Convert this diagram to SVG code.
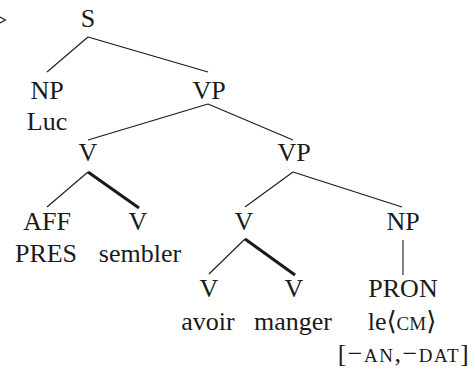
<svg xmlns="http://www.w3.org/2000/svg" width="475" height="371" viewBox="0 0 475 371">
<style>
text{font-family:"Liberation Serif","DejaVu Serif",serif;font-size:26px;fill:#1a1a1a;text-anchor:middle}
.sc{font-size:19px}
.ls{letter-spacing:1.5px}
.e{stroke:#1a1a1a;stroke-width:1.1;fill:none}
.h{stroke:#1a1a1a;stroke-width:3;fill:none}
</style>
<rect width="475" height="371" fill="#fff"/>
<polyline class="e" points="0,17 5.5,20 0,23"/>
<g id="connectors">
<line class="e" x1="88" y1="37" x2="47" y2="72"/>
<line class="e" x1="88" y1="37" x2="208" y2="72"/>
<line class="e" x1="208" y1="104" x2="88" y2="140"/>
<line class="e" x1="208" y1="104" x2="293" y2="140"/>
<line class="e" x1="88" y1="172" x2="47" y2="207"/>
<line class="h" x1="88" y1="172" x2="139" y2="208"/>
<line class="e" x1="293" y1="172" x2="245" y2="207"/>
<line class="e" x1="293" y1="172" x2="402" y2="207"/>
<line class="e" x1="245" y1="239" x2="209" y2="274"/>
<line class="h" x1="245" y1="239" x2="295" y2="275"/>
<line class="e" x1="403" y1="240" x2="403" y2="275"/>
</g>
<g id="S"><text x="88" y="27">S</text></g>
<g id="NP1"><text x="47" y="99">NP</text><text x="47" y="130">Luc</text></g>
<g id="VP1"><text x="209" y="99">VP</text></g>
<g id="V1"><text x="88" y="161">V</text></g>
<g id="VP2"><text x="294" y="161">VP</text></g>
<g id="AFF"><text x="47" y="230">AFF</text><text x="46" y="262">PRES</text></g>
<g id="V2"><text x="138" y="230">V</text><text x="140" y="262">sembler</text></g>
<g id="V3"><text x="244" y="230">V</text></g>
<g id="NP2"><text x="403" y="230">NP</text></g>
<g id="V4"><text x="209" y="297">V</text><text x="208" y="330">avoir</text></g>
<g id="V5"><text x="294" y="297">V</text><text x="293" y="330">manger</text></g>
<g id="PRON"><text x="403" y="297">PRON</text><text x="402" y="330">le⟨<tspan class="sc">CM</tspan>⟩</text><text class="ls" x="404" y="362">[−<tspan class="sc">AN</tspan>,−<tspan class="sc">DAT</tspan>]</text></g>
</svg>
